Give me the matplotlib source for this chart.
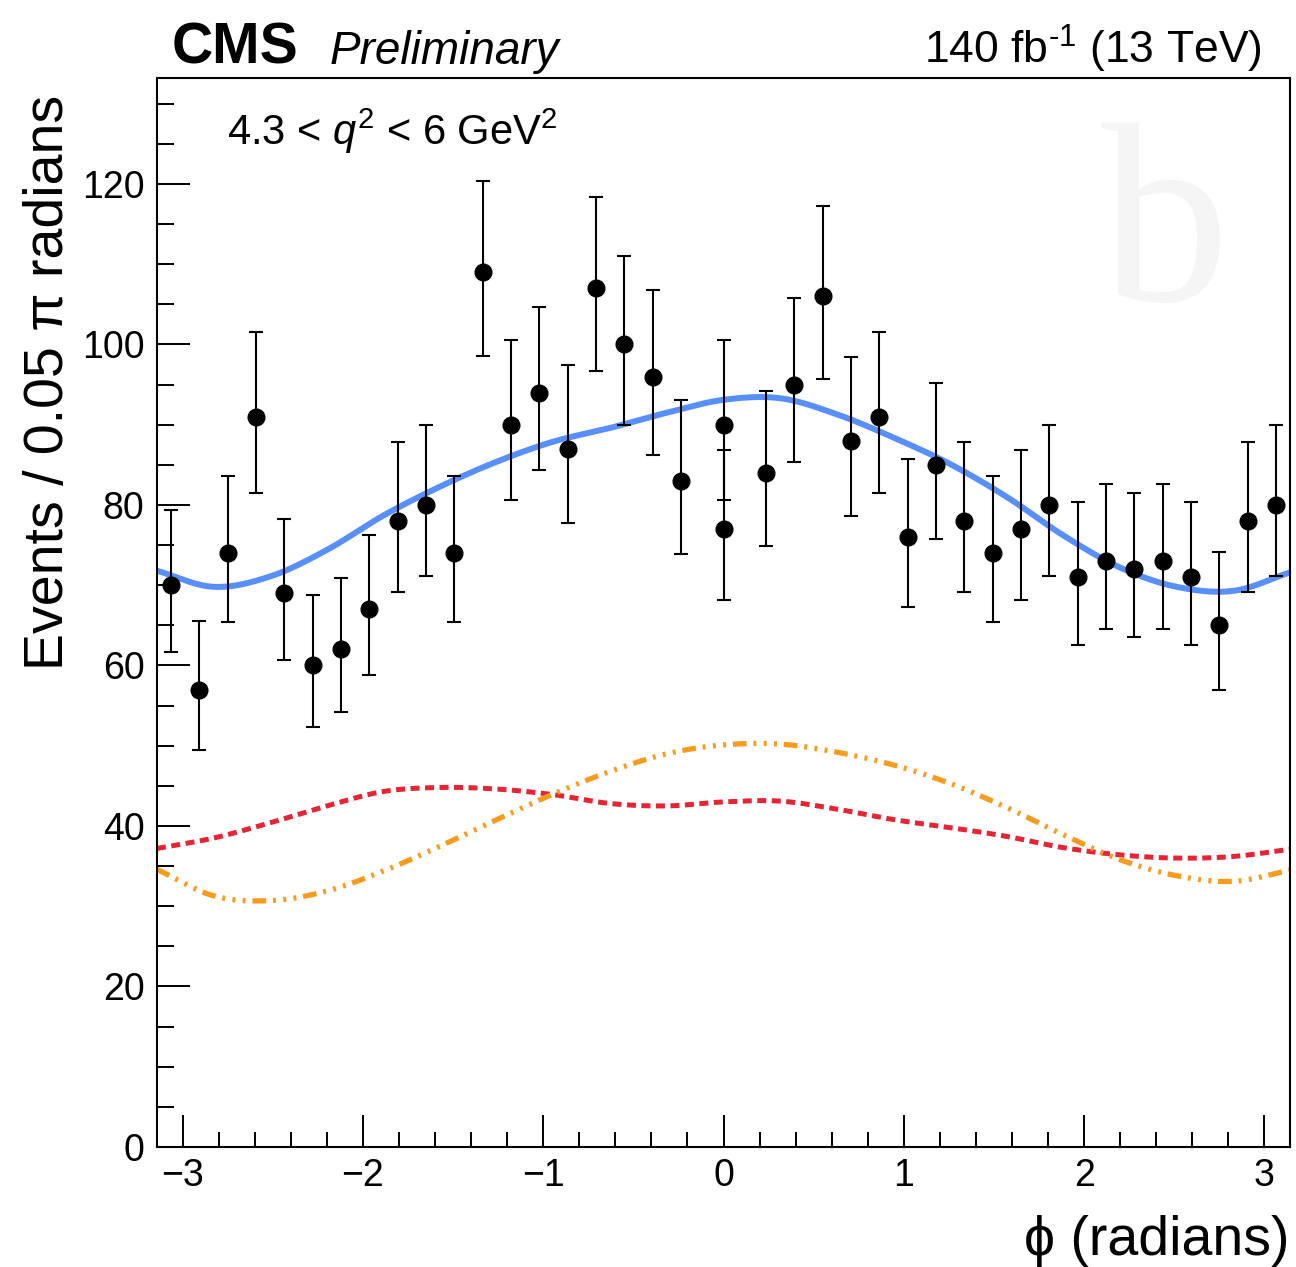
import numpy as np
import matplotlib
matplotlib.use('Agg')
import matplotlib.pyplot as plt
from matplotlib import rcParams

rcParams['font.family'] = ['Liberation Sans', 'DejaVu Sans']
rcParams['mathtext.fontset'] = 'custom'
rcParams['mathtext.rm'] = 'Liberation Sans'
rcParams['mathtext.it'] = 'Liberation Sans:italic'
rcParams['axes.unicode_minus'] = True

# data points: events per 0.05 pi bin
counts = [70, 57, 74, 91, 69, 60, 62, 67, 78, 80,
          74, 109, 90, 94, 87, 107, 100, 96, 83, 90,
          77, 84, 95, 106, 88, 91, 76, 85, 78, 74,
          77, 80, 71, 73, 72, 73, 71, 65, 78, 80]
err_lo = [8.3, 7.5, 8.6, 9.5, 8.3, 7.7, 7.8, 8.2, 8.8, 8.9,
          8.6, 10.4, 9.4, 9.7, 9.3, 10.3, 10.0, 9.8, 9.1, 9.4,
          8.8, 9.1, 9.7, 10.3, 9.4, 9.5, 8.7, 9.2, 8.8, 8.6,
          8.8, 8.9, 8.4, 8.5, 8.5, 8.5, 8.4, 8.0, 8.8, 8.9]
err_hi = [9.4, 8.6, 9.6, 10.5, 9.3, 8.8, 8.9, 9.2, 9.9, 10.0,
          9.6, 11.4, 10.5, 10.7, 10.4, 11.4, 11.0, 10.8, 10.1, 10.5,
          9.8, 10.2, 10.8, 11.3, 10.4, 10.5, 9.7, 10.2, 9.9, 9.6,
          9.8, 10.0, 9.4, 9.6, 9.5, 9.6, 9.4, 9.1, 9.9, 10.0]

# bin centres; the two bins next to zero are drawn at phi = 0 in the original
phi = -np.pi + (np.arange(40) + 0.5) * 0.05 * np.pi
phi[19] = 0.0
phi[20] = 0.0

# fit components every 0.1 pi
curve_x = np.linspace(-np.pi, np.pi, 21)
bkg = [37.2, 38.5, 40.4, 42.5, 44.3, 44.8, 44.6, 43.9, 42.8, 42.5, 43.0,
       43.1, 42.1, 40.8, 39.8, 38.7, 37.3, 36.4, 36.0, 36.2, 37.1]
sig = [34.6, 31.3, 30.7, 31.9, 34.4, 37.5, 40.8, 44.0, 46.8, 49.0, 50.1,
       50.2, 49.2, 47.6, 45.3, 42.3, 38.9, 35.8, 33.8, 33.1, 34.5]


def smooth(xn, yn, n=30):
    # catmull-rom through the read points
    x = np.asarray(xn, float); y = np.asarray(yn, float)
    x = np.concatenate([[2 * x[0] - x[1]], x, [2 * x[-1] - x[-2]]])
    y = np.concatenate([[2 * y[0] - y[1]], y, [2 * y[-1] - y[-2]]])
    t = np.linspace(0, 1, n, endpoint=False)
    xs, ys = [], []
    for i in range(1, len(x) - 2):
        for arr, out in ((x, xs), (y, ys)):
            p0, p1, p2, p3 = arr[i - 1], arr[i], arr[i + 1], arr[i + 2]
            out.append(0.5 * (2 * p1 + (-p0 + p2) * t + (2 * p0 - 5 * p1 + 4 * p2 - p3) * t ** 2
                              + (-p0 + 3 * p1 - 3 * p2 + p3) * t ** 3))
    xs.append([x[-2]]); ys.append([y[-2]])
    return np.concatenate(xs), np.concatenate(ys)


W, H = 1296, 1267
fig = plt.figure(figsize=(W / 100, H / 100), dpi=100)
ax = fig.add_axes([157 / W, 120 / H, 1133 / W, 1069 / H])

# faint watermark
fig.text(1165 / W, 1 - 300 / H, 'b', family='Liberation Serif', fontsize=185,
         color='#f5f5f5', ha='center', va='baseline', zorder=0)

xs, yb = smooth(curve_x, bkg)
_, ysg = smooth(curve_x, sig)
ax.plot(xs, yb, color='#e42536', lw=3.6, dashes=(1.8, 1.1), dash_capstyle='butt', zorder=2)
ax.plot(xs, ysg, color='#f89c20', lw=3.8, dashes=(2.6, 1.3, 0.55, 1.4, 0.55, 1.4, 0.55, 1.3),
        dash_capstyle='butt', zorder=2)
ax.plot(xs, yb + ysg, color='#5790fc', lw=4.3, zorder=2)

ax.errorbar(phi, counts, yerr=[err_lo, err_hi], fmt='o', color='black', ms=12,
            elinewidth=1.5, capsize=5, capthick=1.5, zorder=3)

ax.set_xlim(-np.pi, np.pi)
ax.set_ylim(0, 133.2)
ax.set_xticks([-3, -2, -1, 0, 1, 2, 3])
ax.set_xticks(np.arange(-3.0, 3.01, 0.2), minor=True)
ax.set_yticks(np.arange(0, 121, 20))
ax.set_yticks(np.arange(0, 131, 5), minor=True)
ax.tick_params(axis='both', which='both', direction='in', width=1.4, labelsize=27,
               top=False, right=False)
ax.tick_params(axis='y', which='major', length=24, pad=9)
ax.tick_params(axis='y', which='minor', length=12)
ax.tick_params(axis='x', which='major', length=23, pad=8)
ax.tick_params(axis='x', which='minor', length=11)
for s in ax.spines.values():
    s.set_linewidth(1.5)

fig.text(49 / W, 1 - 95 / H, 'Events / 0.05 π radians', rotation=90, fontsize=40,
         ha='center', va='top')
fig.text(1290 / W, 1 - 1255 / H, 'ϕ (radians)', fontsize=40, ha='right', va='baseline')

fig.text(172 / W, 1 - 64 / H, 'CMS', fontsize=41, fontweight='bold', va='baseline')
fig.text(330 / W, 1 - 64 / H, 'Preliminary', fontsize=33, style='italic', va='baseline')
fig.text(1262 / W, 1 - 64 / H, r'140 fb$^{\text{-}1}$ (13 TeV)', fontsize=32, ha='right',
         va='baseline')
fig.text(227 / W, 1 - 145 / H, '4.3 < $q^{2}$ < 6 GeV$^{2}$', fontsize=30, va='baseline')

fig.savefig('out.png', dpi=100)
